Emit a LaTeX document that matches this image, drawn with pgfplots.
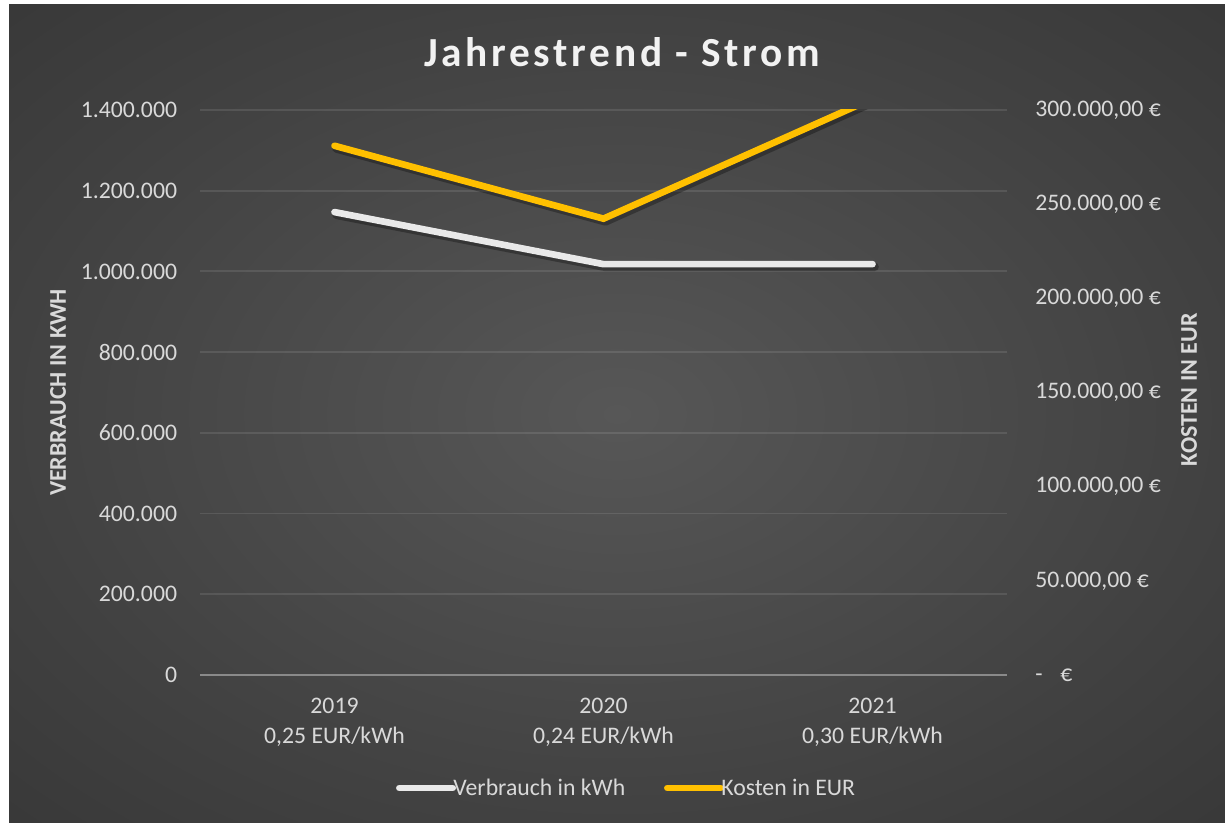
\documentclass[border=0pt]{standalone}
\usepackage{pgfplots}
\pgfplotsset{compat=1.18}
\usepackage{fontspec}
\setmainfont{Carlito}
\newfontfamily\titlefont[LetterSpace=9]{Carlito}
\definecolor{tick}{HTML}{D9D9D9}
\definecolor{basec}{HTML}{8A8A8A}
\definecolor{orangeL}{HTML}{FFC000}
\definecolor{whiteL}{HTML}{E9E9E9}
\definecolor{bgA}{HTML}{575757}
\definecolor{bgB}{HTML}{414141}
\definecolor{bgC}{HTML}{2D2D2D}
\definecolor{bgD}{HTML}{252525}
\pgfdeclareradialshading{bg}{\pgfpoint{0bp}{0bp}}{color(0bp)=(bgA); color(25bp)=(bgB); color(50bp)=(bgC); color(71bp)=(bgD)}
\begin{document}
\begin{tikzpicture}
\useasboundingbox (0pt,0pt) rectangle (918.75pt,617.25pt);
\fill[white] (0pt,0pt) rectangle (918.75pt,617.25pt);
\shade[shading=bg] (6.75pt,0pt) rectangle (918.75pt,613.5pt);
\node[font=\titlefont\bfseries\fontsize{31}{36}\selectfont, text=white!95!black] at (466.5pt,578.25pt) {Jahrestrend - Strom};
\begin{axis}[
  at={(150pt,111pt)}, anchor=south west, scale only axis,
  width=605.25pt, height=423.75pt,
  xmin=-0.5, xmax=2.5, ymin=0, ymax=1400000,
  axis y line*=left, axis x line*=bottom,
  y axis line style={draw=none},
  x axis line style={draw=basec, line width=1.5pt, -},
  major tick length=0pt,
  xtick={0,1,2},
  xticklabels={{2019\\0,25 EUR/kWh},{2020\\0,24 EUR/kWh},{2021\\0,30 EUR/kWh}},
  xticklabel style={align=center, text=tick, font=\fontsize{17.8}{23}\selectfont, yshift=-13.5pt},
  ytick={0,200000,...,1400000},
  ymajorgrids, grid style={draw=white, draw opacity=0.1, line width=1.4pt},
  scaled y ticks=false,
  yticklabel style={/pgf/number format/.cd, fixed, 1000 sep={.}, assume math mode=true, /tikz/.cd,
    text=tick, font=\fontsize{17.8}{21}\selectfont, inner sep=0pt, xshift=-17pt},
  ylabel={\bfseries VERBRAUCH IN KWH},
  ylabel style={at={(axis description cs:-0.176,0.5)}, anchor=center, text=tick, font=\fontsize{18}{21}\selectfont},
  clip=true,
]
\addplot[black, opacity=0.3, line width=6.5pt, line cap=round, line join=round, transform canvas={xshift=1.5pt,yshift=-2pt}] coordinates {(0,1147000) (1,1018000) (2,1018000)};
\addplot[whiteL, line width=5pt, line cap=round, line join=miter] coordinates {(0,1147000) (1,1018000) (2,1018000)};
\end{axis}
\begin{axis}[
  at={(150pt,111pt)}, anchor=south west, scale only axis,
  width=605.25pt, height=423.75pt,
  xmin=-0.5, xmax=2.5, ymin=0, ymax=300000,
  axis y line*=right, hide x axis,
  y axis line style={draw=none},
  major tick length=0pt,
  scaled y ticks=false,
  ytick={0,50000,...,300000},
  yticklabels={{-\hspace{0.75em}€},{50.000,00 €},{100.000,00 €},{150.000,00 €},{200.000,00 €},{250.000,00 €},{300.000,00 €}},
  yticklabel style={text=tick, font=\fontsize{17.8}{21}\selectfont, inner sep=0pt, anchor=west, xshift=21pt},
  ylabel={\bfseries KOSTEN IN EUR},
  ylabel style={at={(axis description cs:1.2255,0.505)}, anchor=center, text=tick, font=\fontsize{18}{21}\selectfont},
  legend style={at={(axis description cs:0.529,-0.2)}, anchor=center, draw=none, fill=none, text=tick,
    font=\fontsize{17.8}{21}\selectfont, legend columns=2,
    /tikz/every even column/.append style={column sep=27pt}},
  legend image code/.code={\draw[#1, line cap=round] (0pt,0pt) -- (40pt,0pt);},
  clip=true,
]
\addlegendimage{whiteL, line width=5pt}
\addlegendentry{\hspace{-4pt}Verbrauch in kWh}
\addplot[black, opacity=0.3, line width=6.5pt, line cap=round, line join=round, transform canvas={xshift=1.5pt,yshift=-2pt}, forget plot] coordinates {(0,281000) (1,242300) (2,306000)};
\addplot[orangeL, line width=5pt, line cap=round, line join=miter] coordinates {(0,281000) (1,242300) (2,306000)};
\addlegendentry{\hspace{-4pt}Kosten in EUR}
\end{axis}
\end{tikzpicture}
\end{document}
